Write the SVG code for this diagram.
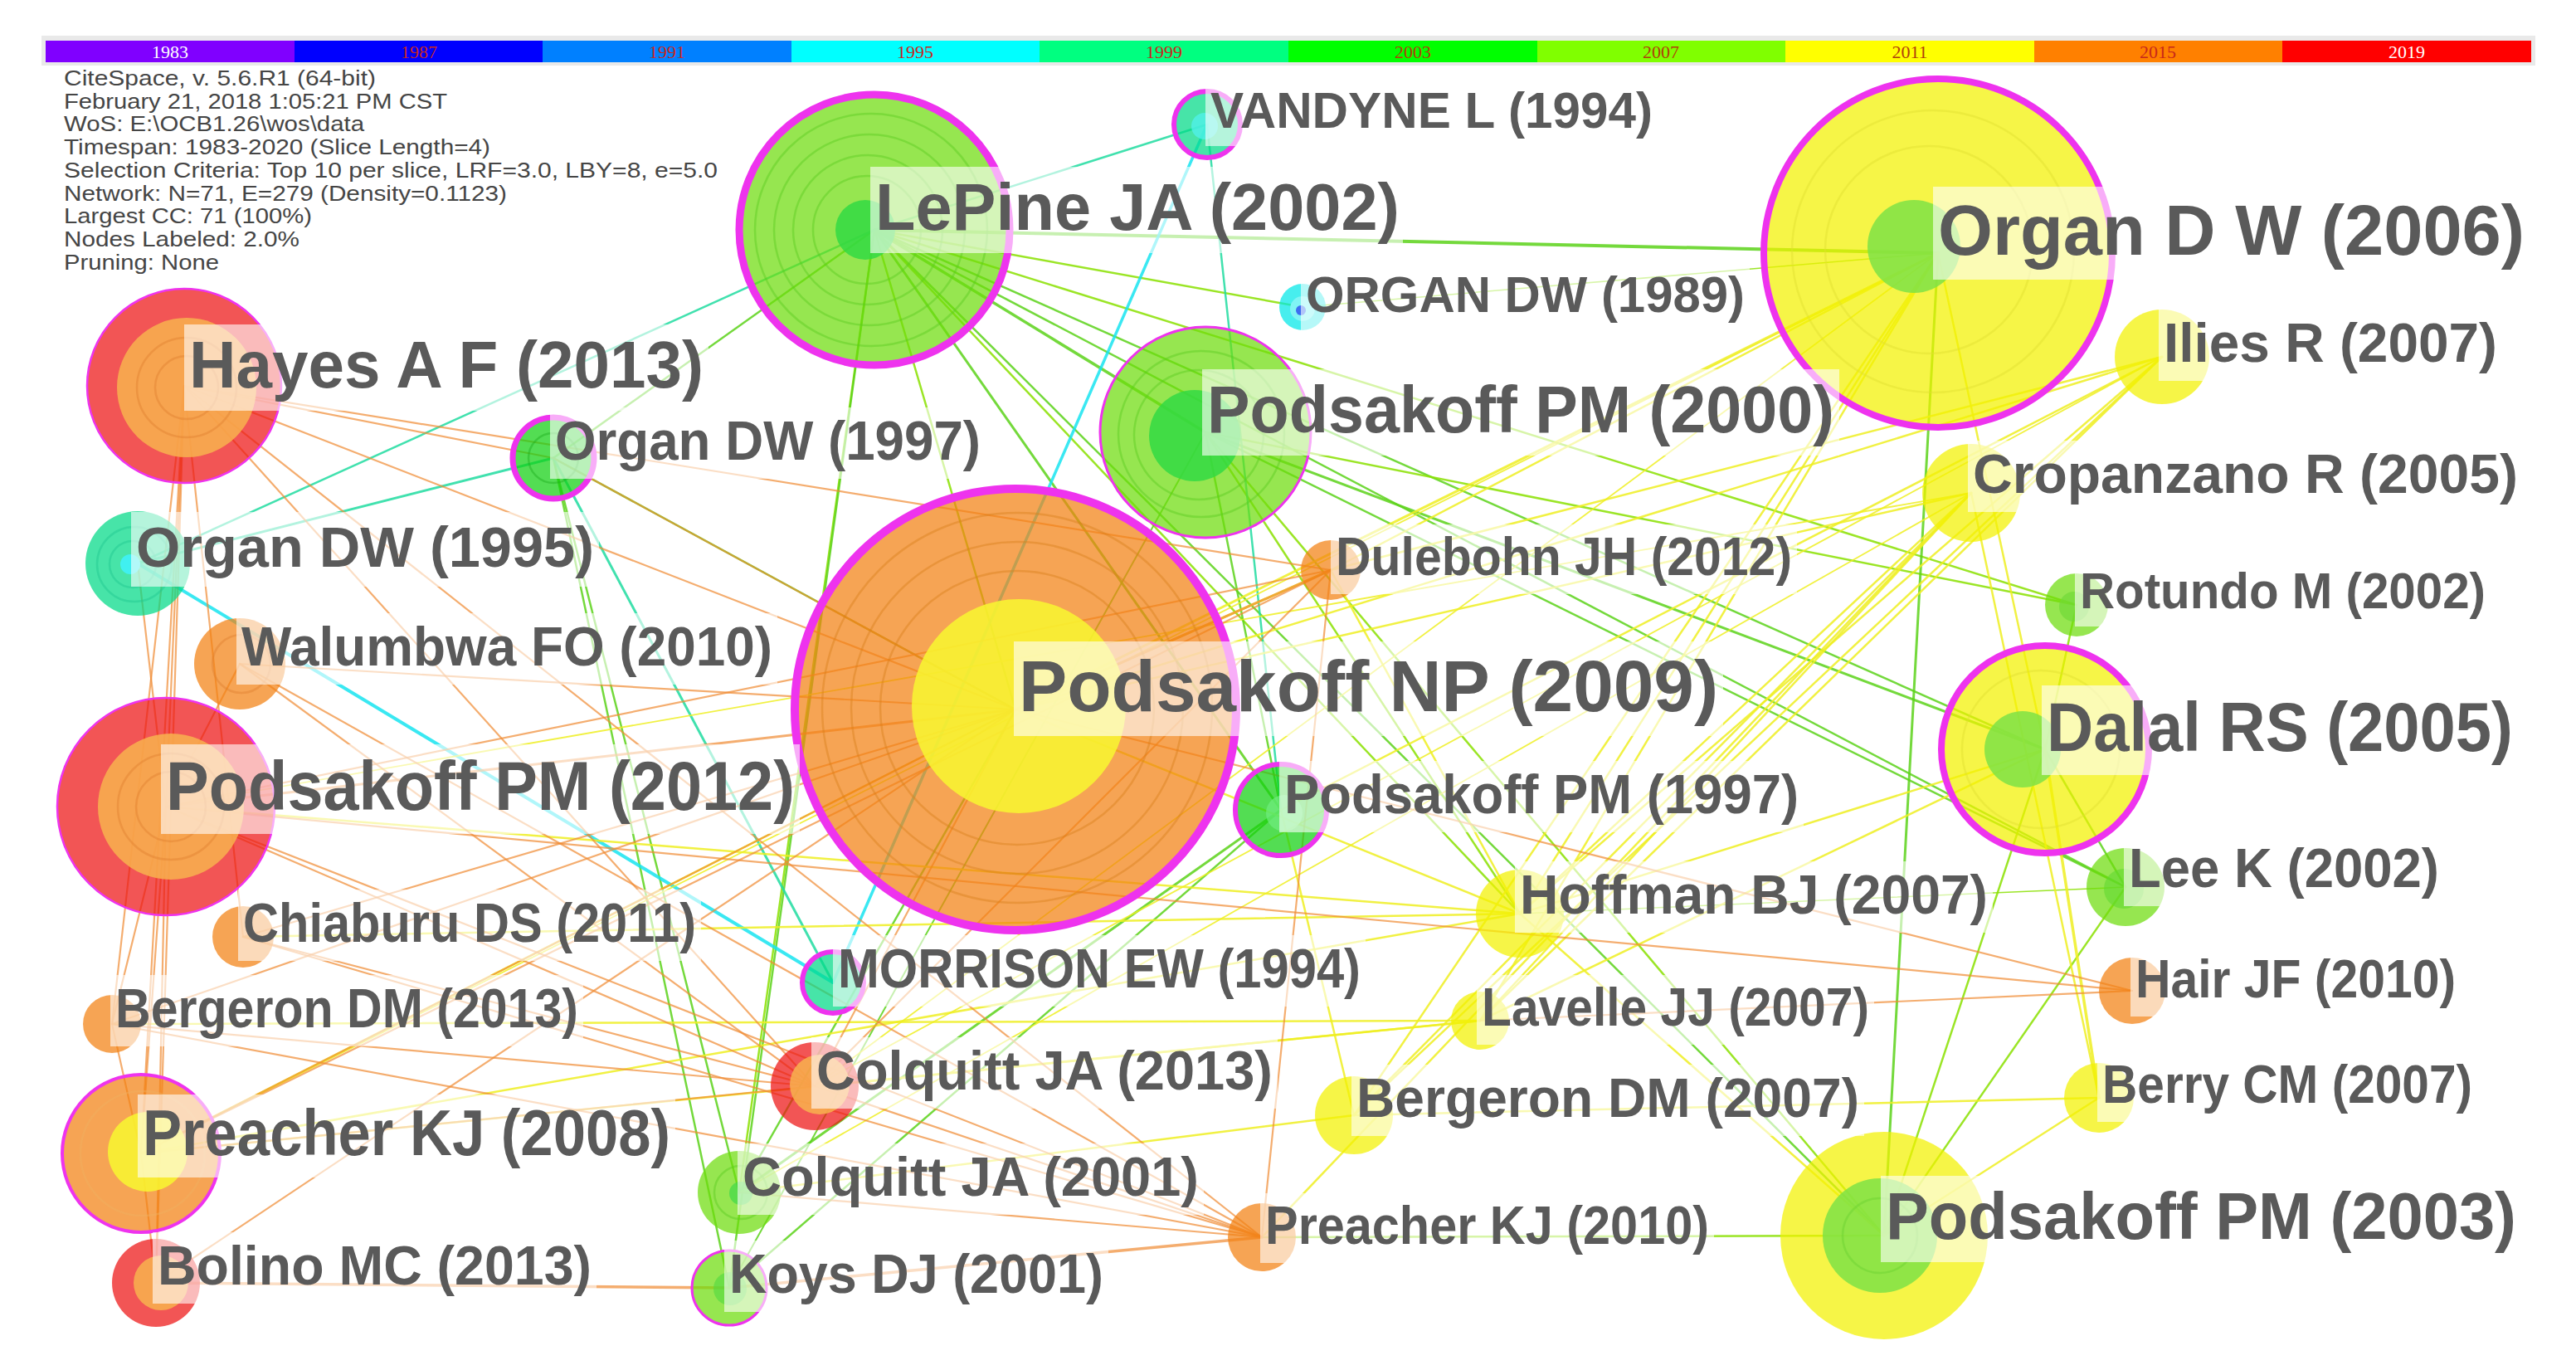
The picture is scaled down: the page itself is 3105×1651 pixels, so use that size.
<svg xmlns="http://www.w3.org/2000/svg" width="3105" height="1651" viewBox="0 0 3105 1651">
<defs>
<style>
.lb{font-family:"Liberation Sans",Arial,sans-serif;font-weight:bold;fill:#5a5a5a}
.bk{fill:#ffffff;fill-opacity:.6}
.info{font-family:"Liberation Sans",Arial,sans-serif;font-size:26px;fill:#454545}
.yr{font-family:"Liberation Serif","Times New Roman",serif;font-size:22px;text-anchor:middle;fill:#c8281a}
.org{fill:#f28112;fill-opacity:.72}
.yel{fill:#f2f100;fill-opacity:.72}
.lgr{fill:#6ddc0c;fill-opacity:.72}
.dgr{fill:#10d010;fill-opacity:.72}
.red{fill:#ed1313;fill-opacity:.72}
.tea{fill:#00da86;fill-opacity:.72}
.cya{fill:#00e7e7;fill-opacity:.72}
.yin{fill:#f8f830;fill-opacity:.85}
.gin{fill:#7ee247;fill-opacity:.85}
.oin{fill:#f8b34f;fill-opacity:.85}
.din{fill:#32d943;fill-opacity:.85}
.mag{fill:none;stroke:#ee33ee}
.rg{fill:none;stroke-opacity:.45;stroke-width:2.5}
#edges line{stroke-width:2.5;stroke-opacity:.85;stroke-linecap:round}
.eg{stroke:#5cd21a}
.eg2{stroke:#8ae000}
.et{stroke:#20dca0}
.ec{stroke:#18e4f0}
.ey{stroke:#eeee22}
#edges .eo{stroke:#ef8a32;stroke-opacity:.7;stroke-width:2.2}
</style>
</defs>
<rect x="0" y="0" width="3105" height="1651" fill="#ffffff"/>

<g id="timebar">
<rect x="50" y="43" width="3006" height="36" fill="#e9e9e9"/>
<rect x="55" y="49" width="300" height="26" fill="#8000ff"/>
<rect x="355" y="49" width="299" height="26" fill="#0000ff"/>
<rect x="654" y="49" width="300" height="26" fill="#0080ff"/>
<rect x="954" y="49" width="299" height="26" fill="#00ffff"/>
<rect x="1253" y="49" width="300" height="26" fill="#00ff80"/>
<rect x="1553" y="49" width="300" height="26" fill="#00ff00"/>
<rect x="1853" y="49" width="299" height="26" fill="#80ff00"/>
<rect x="2152" y="49" width="300" height="26" fill="#ffff00"/>
<rect x="2452" y="49" width="299" height="26" fill="#ff8000"/>
<rect x="2751" y="49" width="300" height="26" fill="#ff0000"/>
<text class="yr" x="205" y="70" style="fill:#ffffff">1983</text>
<text class="yr" x="505" y="70">1987</text>
<text class="yr" x="804" y="70">1991</text>
<text class="yr" x="1103" y="70">1995</text>
<text class="yr" x="1403" y="70">1999</text>
<text class="yr" x="1703" y="70" style="fill:#b0400a">2003</text>
<text class="yr" x="2002" y="70" style="fill:#b0400a">2007</text>
<text class="yr" x="2302" y="70" style="fill:#b0400a">2011</text>
<text class="yr" x="2601" y="70">2015</text>
<text class="yr" x="2901" y="70" style="fill:#ffffff">2019</text>
</g>

<g id="info">
<text class="info" x="77" y="103" textLength="376" lengthAdjust="spacingAndGlyphs">CiteSpace, v. 5.6.R1 (64-bit)</text>
<text class="info" x="77" y="131" textLength="462" lengthAdjust="spacingAndGlyphs">February 21, 2018 1:05:21 PM CST</text>
<text class="info" x="77" y="158" textLength="362" lengthAdjust="spacingAndGlyphs">WoS: E:\OCB1.26\wos\data</text>
<text class="info" x="77" y="186" textLength="514" lengthAdjust="spacingAndGlyphs">Timespan: 1983-2020 (Slice Length=4)</text>
<text class="info" x="77" y="214" textLength="788" lengthAdjust="spacingAndGlyphs">Selection Criteria: Top 10 per slice, LRF=3.0, LBY=8, e=5.0</text>
<text class="info" x="77" y="242" textLength="534" lengthAdjust="spacingAndGlyphs">Network: N=71, E=279 (Density=0.1123)</text>
<text class="info" x="77" y="269" textLength="299" lengthAdjust="spacingAndGlyphs">Largest CC: 71 (100%)</text>
<text class="info" x="77" y="297" textLength="284" lengthAdjust="spacingAndGlyphs">Nodes Labeled: 2.0%</text>
<text class="info" x="77" y="325" textLength="187" lengthAdjust="spacingAndGlyphs">Pruning: None</text>
</g>

<g id="edges">
<line class="eg" x1="1054" y1="277" x2="2336" y2="305" style="stroke-width:4"/>
<line class="eg" x1="1054" y1="277" x2="1453" y2="521" style="stroke-width:3.5"/>
<line class="eg" x1="1054" y1="277" x2="2465" y2="903"/>
<line class="eg2" x1="1054" y1="277" x2="2503" y2="729"/>
<line class="eg" x1="1054" y1="277" x2="2562" y2="1069"/>
<line class="eg" x1="1054" y1="277" x2="1544" y2="976" style="stroke-width:3"/>
<line class="eg2" x1="1054" y1="277" x2="1224" y2="855"/>
<line class="eg" x1="1054" y1="277" x2="2271" y2="1489"/>
<line class="eg2" x1="1054" y1="277" x2="891" y2="1437"/>
<line class="eg" x1="1054" y1="277" x2="879" y2="1552"/>
<line class="eg2" x1="1054" y1="277" x2="1832" y2="1101"/>
<line class="eg2" x1="1054" y1="277" x2="1570" y2="370"/>
<line class="eg" x1="667" y1="552" x2="1054" y2="277"/>
<line class="eg" x1="1453" y1="521" x2="2465" y2="903" style="stroke-width:3"/>
<line class="eg" x1="1453" y1="521" x2="2562" y2="1069"/>
<line class="eg2" x1="1453" y1="521" x2="2503" y2="729"/>
<line class="eg" x1="1453" y1="521" x2="1544" y2="976"/>
<line class="eg2" x1="1453" y1="521" x2="2271" y2="1489"/>
<line class="eg2" x1="1453" y1="521" x2="1832" y2="1101"/>
<line class="eg" x1="2336" y1="305" x2="2271" y2="1489" style="stroke-width:3"/>
<line class="eg2" x1="2465" y1="903" x2="2271" y2="1489"/>
<line class="eg" x1="2465" y1="903" x2="2562" y2="1069"/>
<line class="eg" x1="1544" y1="976" x2="891" y2="1437" style="stroke-width:3"/>
<line class="eg" x1="1544" y1="976" x2="879" y2="1552"/>
<line class="eg" x1="667" y1="552" x2="1224" y2="855"/>
<line class="eg" x1="667" y1="552" x2="891" y2="1437"/>
<line class="eg" x1="667" y1="552" x2="879" y2="1552"/>
<line class="eg2" x1="1521" y1="1491" x2="2271" y2="1489"/>
<line class="eg" x1="891" y1="1437" x2="1224" y2="855"/>
<line class="eg2" x1="2562" y1="1069" x2="2271" y2="1489"/>
<line class="eg2" x1="2503" y1="729" x2="2465" y2="903"/>
<line class="eg2" x1="1570" y1="370" x2="2336" y2="305" style="stroke-width:1.5"/>
<line class="eg2" x1="2562" y1="1069" x2="1832" y2="1101" style="stroke-width:1.5"/>
<line class="eg" x1="879" y1="1552" x2="1453" y2="521" style="stroke-width:2"/>
<line class="et" x1="166" y1="679" x2="1054" y2="277"/>
<line class="et" x1="166" y1="679" x2="667" y2="552" style="stroke-width:3"/>
<line class="et" x1="1455" y1="150" x2="1054" y2="277"/>
<line class="et" x1="1455" y1="150" x2="1544" y2="976"/>
<line class="et" x1="667" y1="552" x2="1004" y2="1184" style="stroke-width:3"/>
<line class="ec" x1="166" y1="679" x2="1004" y2="1184" style="stroke-width:4"/>
<line class="ec" x1="1455" y1="150" x2="1004" y2="1184" style="stroke-width:3.5"/>
<line class="ey" x1="2336" y1="305" x2="1832" y2="1101"/>
<line class="ey" x1="2336" y1="305" x2="1784" y2="1230"/>
<line class="ey" x1="2336" y1="305" x2="1632" y2="1344"/>
<line class="ey" x1="2336" y1="305" x2="1224" y2="855" style="stroke-width:3"/>
<line class="ey" x1="2336" y1="305" x2="2465" y2="903"/>
<line class="ey" x1="2336" y1="305" x2="1604" y2="687"/>
<line class="ey" x1="2336" y1="305" x2="982" y2="1309" style="stroke-width:1.8"/>
<line class="ey" x1="2336" y1="305" x2="170" y2="1390" style="stroke-width:1.8"/>
<line class="ey" x1="2606" y1="430" x2="1832" y2="1101"/>
<line class="ey" x1="2606" y1="430" x2="1784" y2="1230"/>
<line class="ey" x1="2606" y1="430" x2="1632" y2="1344"/>
<line class="ey" x1="2606" y1="430" x2="1224" y2="855"/>
<line class="ey" x1="2606" y1="430" x2="1604" y2="687"/>
<line class="ey" x1="2606" y1="430" x2="1544" y2="976"/>
<line class="ey" x1="2606" y1="430" x2="982" y2="1309" style="stroke-width:1.8"/>
<line class="ey" x1="2376" y1="594" x2="2530" y2="1323"/>
<line class="ey" x1="2376" y1="594" x2="1832" y2="1101"/>
<line class="ey" x1="2376" y1="594" x2="1784" y2="1230"/>
<line class="ey" x1="2376" y1="594" x2="1632" y2="1344"/>
<line class="ey" x1="2376" y1="594" x2="1521" y2="1491"/>
<line class="ey" x1="2376" y1="594" x2="1224" y2="855"/>
<line class="ey" x1="2376" y1="594" x2="891" y2="1437" style="stroke-width:1.8"/>
<line class="ey" x1="2376" y1="594" x2="200" y2="972" style="stroke-width:1.8"/>
<line class="ey" x1="2465" y1="903" x2="2530" y2="1323" style="stroke-width:3.5"/>
<line class="ey" x1="2465" y1="903" x2="1832" y2="1101"/>
<line class="ey" x1="2465" y1="903" x2="1784" y2="1230"/>
<line class="ey" x1="1832" y1="1101" x2="1224" y2="855"/>
<line class="ey" x1="1832" y1="1101" x2="2271" y2="1489"/>
<line class="ey" x1="2530" y1="1323" x2="2271" y2="1489"/>
<line class="ey" x1="2530" y1="1323" x2="1632" y2="1344"/>
<line class="ey" x1="1224" y1="855" x2="170" y2="1390"/>
<line class="ey" x1="1224" y1="855" x2="1604" y2="687" style="stroke-width:3"/>
<line class="ey" x1="1784" y1="1230" x2="982" y2="1309"/>
<line class="ey" x1="1632" y1="1344" x2="891" y2="1437"/>
<line class="ey" x1="170" y1="1390" x2="1832" y2="1101"/>
<line class="ey" x1="170" y1="1390" x2="1784" y2="1230"/>
<line class="ey" x1="293" y1="1129" x2="1832" y2="1101"/>
<line class="ey" x1="135" y1="1234" x2="1784" y2="1230"/>
<line class="ey" x1="200" y1="972" x2="1832" y2="1101"/>
<line class="ey" x1="1604" y1="687" x2="1832" y2="1101"/>
<line class="ey" x1="1544" y1="976" x2="1632" y2="1344"/>
<line class="eo" x1="222" y1="465" x2="200" y2="972"/>
<line class="eo" x1="222" y1="465" x2="170" y2="1390"/>
<line class="eo" x1="222" y1="465" x2="188" y2="1546"/>
<line class="eo" x1="222" y1="465" x2="135" y2="1234"/>
<line class="eo" x1="222" y1="465" x2="1224" y2="855"/>
<line class="eo" x1="222" y1="465" x2="982" y2="1309"/>
<line class="eo" x1="222" y1="465" x2="1521" y2="1491"/>
<line class="eo" x1="222" y1="465" x2="1604" y2="687"/>
<line class="eo" x1="200" y1="972" x2="170" y2="1390"/>
<line class="eo" x1="200" y1="972" x2="188" y2="1546"/>
<line class="eo" x1="200" y1="972" x2="135" y2="1234"/>
<line class="eo" x1="200" y1="972" x2="1224" y2="855" style="stroke-width:3"/>
<line class="eo" x1="200" y1="972" x2="1521" y2="1491"/>
<line class="eo" x1="200" y1="972" x2="982" y2="1309"/>
<line class="eo" x1="200" y1="972" x2="2570" y2="1194"/>
<line class="eo" x1="200" y1="972" x2="1604" y2="687"/>
<line class="eo" x1="170" y1="1390" x2="188" y2="1546"/>
<line class="eo" x1="170" y1="1390" x2="1224" y2="855"/>
<line class="eo" x1="170" y1="1390" x2="1604" y2="687"/>
<line class="eo" x1="170" y1="1390" x2="982" y2="1309"/>
<line class="eo" x1="188" y1="1546" x2="879" y2="1552" style="stroke-width:3.5"/>
<line class="eo" x1="188" y1="1546" x2="1224" y2="855"/>
<line class="eo" x1="293" y1="1129" x2="1224" y2="855"/>
<line class="eo" x1="293" y1="1129" x2="982" y2="1309"/>
<line class="eo" x1="293" y1="1129" x2="1521" y2="1491"/>
<line class="eo" x1="135" y1="1234" x2="1224" y2="855"/>
<line class="eo" x1="135" y1="1234" x2="982" y2="1309"/>
<line class="eo" x1="135" y1="1234" x2="1521" y2="1491"/>
<line class="eo" x1="289" y1="800" x2="1224" y2="855"/>
<line class="eo" x1="289" y1="800" x2="982" y2="1309"/>
<line class="eo" x1="289" y1="800" x2="1521" y2="1491"/>
<line class="eo" x1="982" y1="1309" x2="1521" y2="1491"/>
<line class="eo" x1="982" y1="1309" x2="1224" y2="855"/>
<line class="eo" x1="982" y1="1309" x2="1604" y2="687"/>
<line class="eo" x1="879" y1="1552" x2="1521" y2="1491" style="stroke-width:3.5"/>
<line class="eo" x1="891" y1="1437" x2="1521" y2="1491"/>
<line class="eo" x1="1604" y1="687" x2="1521" y2="1491"/>
<line class="eo" x1="1604" y1="687" x2="1224" y2="855" style="stroke-width:3"/>
<line class="eo" x1="1224" y1="855" x2="2570" y2="1194"/>
<line class="eo" x1="1784" y1="1230" x2="2570" y2="1194"/>
<line class="eo" x1="667" y1="552" x2="222" y2="465"/>
<line class="eo" x1="222" y1="465" x2="293" y2="1129"/>
<line class="eo" x1="170" y1="1390" x2="135" y2="1234"/>
<line class="eo" x1="200" y1="972" x2="289" y2="800"/>
<line class="eo" x1="166" y1="679" x2="200" y2="972"/>
<line class="eo" x1="667" y1="552" x2="1224" y2="855"/>
</g>

<g id="n-podsakoff-np-2009">
<circle class="org" cx="1224" cy="855" r="266"/>
<circle class="rg" cx="1226" cy="853" r="235" stroke="#d9801c"/>
<circle class="rg" cx="1226" cy="853" r="200" stroke="#d9801c"/>
<circle class="rg" cx="1226" cy="853" r="165" stroke="#d9801c"/>
<circle class="yin" cx="1228" cy="851" r="129"/>
<circle class="mag" cx="1224" cy="855" r="266" stroke-width="10"/>
<rect class="bk" x="1222" y="773" width="855" height="114"/>
<text class="lb" x="1228" y="857" font-size="88" textLength="843" lengthAdjust="spacingAndGlyphs">Podsakoff NP (2009)</text>
</g>

<g id="n-organ-dw-2006">
<circle class="yel" cx="2336" cy="305" r="210"/>
<circle class="rg" cx="2330" cy="303" r="170" stroke="#e0e030"/>
<circle class="rg" cx="2325" cy="301" r="125" stroke="#e0e030"/>
<circle class="gin" cx="2307" cy="297" r="56"/>
<circle class="mag" cx="2336" cy="305" r="210" stroke-width="8"/>
<rect class="bk" x="2330" y="225" width="719" height="112"/>
<text class="lb" x="2336" y="307" font-size="86" textLength="707" lengthAdjust="spacingAndGlyphs">Organ D W (2006)</text>
</g>

<g id="n-lepine-ja-2002">
<circle class="lgr" cx="1054" cy="277" r="163"/>
<circle class="rg" cx="1050" cy="277" r="140" stroke="#5ccc20"/>
<circle class="rg" cx="1048" cy="277" r="115" stroke="#5ccc20"/>
<circle class="rg" cx="1046" cy="277" r="90" stroke="#5ccc20"/>
<circle class="rg" cx="1045" cy="277" r="65" stroke="#5ccc20"/>
<circle class="din" cx="1043" cy="277" r="36"/>
<circle class="mag" cx="1054" cy="277" r="163" stroke-width="9"/>
<rect class="bk" x="1049" y="201" width="642" height="104"/>
<text class="lb" x="1055" y="277" font-size="80" textLength="632" lengthAdjust="spacingAndGlyphs">LePine JA (2002)</text>
</g>

<g id="n-podsakoff-pm-2000">
<circle class="lgr" cx="1453" cy="521" r="127"/>
<circle class="rg" cx="1448" cy="523" r="100" stroke="#5ccc20"/>
<circle class="rg" cx="1445" cy="524" r="78" stroke="#5ccc20"/>
<circle class="din" cx="1440" cy="525" r="55"/>
<circle class="mag" cx="1453" cy="521" r="127" stroke-width="3"/>
<rect class="bk" x="1449" y="445" width="768" height="104"/>
<text class="lb" x="1455" y="521" font-size="80" textLength="756" lengthAdjust="spacingAndGlyphs">Podsakoff PM (2000)</text>
</g>

<g id="n-dalal-rs-2005">
<circle class="yel" cx="2465" cy="903" r="125"/>
<circle class="rg" cx="2460" cy="903" r="95" stroke="#e0e030"/>
<circle class="gin" cx="2438" cy="903" r="46"/>
<circle class="mag" cx="2465" cy="903" r="125" stroke-width="8"/>
<rect class="bk" x="2461" y="826" width="574" height="108"/>
<text class="lb" x="2467" y="905" font-size="83" textLength="562" lengthAdjust="spacingAndGlyphs">Dalal RS (2005)</text>
</g>

<g id="n-podsakoff-pm-2003">
<circle class="yel" cx="2271" cy="1489" r="125"/>
<circle class="gin" cx="2266" cy="1489" r="69"/>
<circle class="rg" cx="2266" cy="1489" r="45" stroke="#6ad030"/>
<rect class="bk" x="2267" y="1417" width="772" height="104"/>
<text class="lb" x="2273" y="1493" font-size="80" textLength="760" lengthAdjust="spacingAndGlyphs">Podsakoff PM (2003)</text>
</g>

<g id="n-hayes-af-2013">
<circle class="red" cx="222" cy="465" r="117"/>
<circle class="oin" cx="225" cy="467" r="84"/>
<circle class="rg" cx="225" cy="467" r="60" stroke="#e08030"/>
<circle class="rg" cx="225" cy="467" r="38" stroke="#e08030"/>
<circle class="mag" cx="222" cy="465" r="117" stroke-width="2.5"/>
<rect class="bk" x="222" y="391" width="632" height="104"/>
<text class="lb" x="228" y="467" font-size="80" textLength="620" lengthAdjust="spacingAndGlyphs">Hayes A F (2013)</text>
</g>

<g id="n-podsakoff-pm-2012">
<circle class="red" cx="200" cy="972" r="131"/>
<circle class="oin" cx="206" cy="972" r="88"/>
<circle class="rg" cx="206" cy="972" r="64" stroke="#e08030"/>
<circle class="rg" cx="206" cy="972" r="42" stroke="#e08030"/>
<circle class="mag" cx="200" cy="972" r="131" stroke-width="2.5"/>
<rect class="bk" x="194" y="897" width="770" height="108"/>
<text class="lb" x="200" y="976" font-size="83" textLength="758" lengthAdjust="spacingAndGlyphs">Podsakoff PM (2012)</text>
</g>

<g id="n-preacher-kj-2008">
<circle class="org" cx="170" cy="1390" r="95"/>
<circle class="rg" cx="172" cy="1390" r="75" stroke="#f0b060"/>
<circle class="yin" cx="178" cy="1388" r="48"/>
<circle class="mag" cx="170" cy="1390" r="95" stroke-width="4"/>
<rect class="bk" x="166" y="1319" width="648" height="100"/>
<text class="lb" x="172" y="1392" font-size="77" textLength="636" lengthAdjust="spacingAndGlyphs">Preacher KJ (2008)</text>
</g>

<g id="n-organ-dw-1995">
<circle class="tea" cx="166" cy="679" r="63"/>
<circle class="rg" cx="162" cy="680" r="45" stroke="#20c890"/>
<circle class="rg" cx="160" cy="680" r="28" stroke="#20c890"/>
<circle cx="157" cy="680" r="12" fill="#40f0f0"/>
<rect class="bk" x="158" y="617" width="564" height="90"/>
<text class="lb" x="164" y="683" font-size="69" textLength="552" lengthAdjust="spacingAndGlyphs">Organ DW (1995)</text>
</g>

<g id="n-organ-dw-1997">
<circle class="dgr" cx="667" cy="552" r="49"/>
<circle class="rg" cx="667" cy="552" r="30" stroke="#20b020"/>
<circle class="mag" cx="667" cy="552" r="49" stroke-width="7"/>
<rect class="bk" x="663" y="491" width="525" height="86"/>
<text class="lb" x="669" y="554" font-size="66" textLength="513" lengthAdjust="spacingAndGlyphs">Organ DW (1997)</text>
</g>

<g id="n-vandyne-l-1994">
<circle class="tea" cx="1455" cy="150" r="40"/>
<circle cx="1452" cy="152" r="16" fill="#50f0e8" fill-opacity=".8"/>
<circle class="mag" cx="1455" cy="150" r="40" stroke-width="6"/>
<rect class="bk" x="1453" y="96" width="545" height="80"/>
<text class="lb" x="1459" y="154" font-size="61" textLength="533" lengthAdjust="spacingAndGlyphs">VANDYNE L (1994)</text>
</g>

<g id="n-organ-dw-1989">
<circle class="cya" cx="1570" cy="370" r="28"/>
<circle cx="1570" cy="372" r="15" fill="#80f4f4"/>
<circle cx="1568" cy="374" r="6" fill="#3d6ef0"/>
<rect class="bk" x="1568" y="318" width="541" height="80"/>
<text class="lb" x="1574" y="376" font-size="61" textLength="529" lengthAdjust="spacingAndGlyphs">ORGAN DW (1989)</text>
</g>

<g id="n-ilies-r-2007">
<circle class="yel" cx="2606" cy="430" r="57"/>
<rect class="bk" x="2602" y="373" width="414" height="86"/>
<text class="lb" x="2608" y="436" font-size="66" textLength="402" lengthAdjust="spacingAndGlyphs">Ilies R (2007)</text>
</g>

<g id="n-cropanzano-r-2005">
<circle class="yel" cx="2376" cy="594" r="59"/>
<rect class="bk" x="2372" y="531" width="669" height="86"/>
<text class="lb" x="2378" y="594" font-size="66" textLength="657" lengthAdjust="spacingAndGlyphs">Cropanzano R (2005)</text>
</g>

<g id="n-dulebohn-jh-2012">
<circle class="org" cx="1604" cy="687" r="36"/>
<rect class="bk" x="1604" y="632" width="562" height="84"/>
<text class="lb" x="1610" y="693" font-size="64" textLength="550" lengthAdjust="spacingAndGlyphs">Dulebohn JH (2012)</text>
</g>

<g id="n-rotundo-m-2002">
<circle class="lgr" cx="2503" cy="729" r="38"/>
<circle cx="2500" cy="731" r="18" fill="#70d838" fill-opacity=".7"/>
<rect class="bk" x="2501" y="675" width="501" height="80"/>
<text class="lb" x="2507" y="733" font-size="61" textLength="489" lengthAdjust="spacingAndGlyphs">Rotundo M (2002)</text>
</g>

<g id="n-walumbwa-fo-2010">
<circle class="org" cx="289" cy="800" r="55"/>
<circle class="rg" cx="291" cy="800" r="35" stroke="#e08030"/>
<rect class="bk" x="285" y="739" width="652" height="86"/>
<text class="lb" x="291" y="802" font-size="66" textLength="640" lengthAdjust="spacingAndGlyphs">Walumbwa FO (2010)</text>
</g>

<g id="n-podsakoff-pm-1997">
<circle class="dgr" cx="1544" cy="976" r="55"/>
<circle cx="1548" cy="980" r="22" fill="#70ec80" fill-opacity=".7"/>
<circle class="mag" cx="1544" cy="976" r="55" stroke-width="6"/>
<rect class="bk" x="1542" y="917" width="632" height="86"/>
<text class="lb" x="1548" y="980" font-size="66" textLength="620" lengthAdjust="spacingAndGlyphs">Podsakoff PM (1997)</text>
</g>

<g id="n-hoffman-bj-2007">
<circle class="yel" cx="1832" cy="1101" r="53"/>
<rect class="bk" x="1826" y="1038" width="576" height="86"/>
<text class="lb" x="1832" y="1101" font-size="66" textLength="564" lengthAdjust="spacingAndGlyphs">Hoffman BJ (2007)</text>
</g>

<g id="n-lee-k-2002">
<circle class="lgr" cx="2562" cy="1069" r="47"/>
<circle cx="2560" cy="1071" r="24" fill="#60d830" fill-opacity=".6"/>
<rect class="bk" x="2560" y="1006" width="386" height="86"/>
<text class="lb" x="2566" y="1069" font-size="66" textLength="374" lengthAdjust="spacingAndGlyphs">Lee K (2002)</text>
</g>

<g id="n-chiaburu-ds-2011">
<circle class="org" cx="293" cy="1129" r="37"/>
<rect class="bk" x="287" y="1072" width="558" height="86"/>
<text class="lb" x="293" y="1135" font-size="66" textLength="546" lengthAdjust="spacingAndGlyphs">Chiaburu DS (2011)</text>
</g>

<g id="n-morrison-ew-1994">
<circle class="tea" cx="1004" cy="1184" r="37"/>
<circle class="mag" cx="1004" cy="1184" r="37" stroke-width="6"/>
<rect class="bk" x="1004" y="1127" width="642" height="86"/>
<text class="lb" x="1010" y="1190" font-size="66" textLength="630" lengthAdjust="spacingAndGlyphs">MORRISON EW (1994)</text>
</g>

<g id="n-hair-jf-2010">
<circle class="org" cx="2570" cy="1194" r="40"/>
<rect class="bk" x="2568" y="1141" width="398" height="84"/>
<text class="lb" x="2574" y="1202" font-size="64" textLength="386" lengthAdjust="spacingAndGlyphs">Hair JF (2010)</text>
</g>

<g id="n-bergeron-dm-2013">
<circle class="org" cx="135" cy="1234" r="35"/>
<rect class="bk" x="133" y="1175" width="570" height="86"/>
<text class="lb" x="139" y="1238" font-size="66" textLength="558" lengthAdjust="spacingAndGlyphs">Bergeron DM (2013)</text>
</g>

<g id="n-lavelle-jj-2007">
<circle class="yel" cx="1784" cy="1230" r="35"/>
<rect class="bk" x="1780" y="1175" width="479" height="84"/>
<text class="lb" x="1786" y="1236" font-size="64" textLength="467" lengthAdjust="spacingAndGlyphs">Lavelle JJ (2007)</text>
</g>

<g id="n-colquitt-ja-2013">
<circle class="red" cx="982" cy="1309" r="53"/>
<circle class="oin" cx="988" cy="1307" r="36"/>
<rect class="bk" x="978" y="1250" width="562" height="86"/>
<text class="lb" x="984" y="1313" font-size="66" textLength="550" lengthAdjust="spacingAndGlyphs">Colquitt JA (2013)</text>
</g>

<g id="n-bergeron-dm-2007">
<circle class="yel" cx="1632" cy="1344" r="47"/>
<rect class="bk" x="1629" y="1283" width="618" height="86"/>
<text class="lb" x="1635" y="1346" font-size="66" textLength="606" lengthAdjust="spacingAndGlyphs">Bergeron DM (2007)</text>
</g>

<g id="n-berry-cm-2007">
<circle class="yel" cx="2530" cy="1323" r="42"/>
<rect class="bk" x="2528" y="1268" width="458" height="84"/>
<text class="lb" x="2534" y="1329" font-size="64" textLength="446" lengthAdjust="spacingAndGlyphs">Berry CM (2007)</text>
</g>

<g id="n-colquitt-ja-2001">
<circle class="lgr" cx="891" cy="1437" r="50"/>
<circle class="rg" cx="893" cy="1437" r="32" stroke="#5ccc20"/>
<circle cx="893" cy="1438" r="14" fill="#40d848" fill-opacity=".7"/>
<rect class="bk" x="889" y="1378" width="562" height="86"/>
<text class="lb" x="895" y="1441" font-size="66" textLength="550" lengthAdjust="spacingAndGlyphs">Colquitt JA (2001)</text>
</g>

<g id="n-preacher-kj-2010">
<circle class="org" cx="1521" cy="1491" r="41"/>
<rect class="bk" x="1519" y="1438" width="547" height="84"/>
<text class="lb" x="1525" y="1499" font-size="64" textLength="535" lengthAdjust="spacingAndGlyphs">Preacher KJ (2010)</text>
</g>

<g id="n-bolino-mc-2013">
<circle class="red" cx="188" cy="1546" r="53"/>
<circle class="oin" cx="194" cy="1546" r="33"/>
<rect class="bk" x="184" y="1485" width="535" height="86"/>
<text class="lb" x="190" y="1548" font-size="66" textLength="523" lengthAdjust="spacingAndGlyphs">Bolino MC (2013)</text>
</g>

<g id="n-koys-dj-2001">
<circle class="lgr" cx="879" cy="1552" r="45"/>
<circle cx="880" cy="1553" r="20" fill="#50d840" fill-opacity=".6"/>
<circle class="mag" cx="879" cy="1552" r="45" stroke-width="3"/>
<rect class="bk" x="873" y="1495" width="463" height="86"/>
<text class="lb" x="879" y="1558" font-size="66" textLength="451" lengthAdjust="spacingAndGlyphs">Koys DJ (2001)</text>
</g>
</svg>
